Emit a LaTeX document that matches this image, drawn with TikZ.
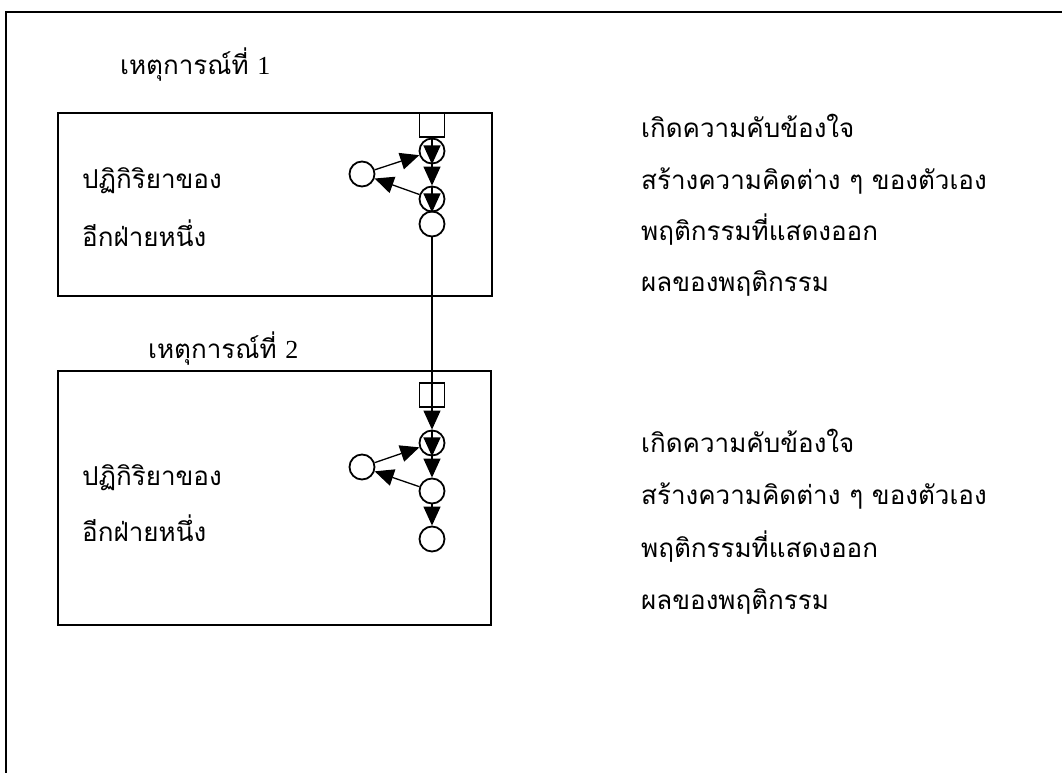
\documentclass[tikz,border=0pt]{standalone}
\usepackage{fontspec}
\setmainfont{Liberation Serif}
\newfontfamily\thaifont[Script=Thai]{Loma}
\usetikzlibrary{arrows.meta}
\begin{document}
\begin{tikzpicture}[x=1pt,y=-1pt,
  frame/.style={line width=2.6pt},
  panel/.style={line width=2pt},
  sq/.style={draw,line width=1.8pt,minimum width=25pt,minimum height=24pt,inner sep=0pt},
  circ/.style={draw,circle,line width=1.8pt,minimum size=25pt,inner sep=0pt},
  tip/.style={-{Triangle[width=17pt,length=19pt]}},
  arr/.style={line width=1.3pt,tip},
  ln/.style={line width=1.1pt,tip},
  txt/.style={anchor=base west,inner sep=0pt,font=\thaifont\fontsize{26}{31}\selectfont}]
\useasboundingbox (0,0) rectangle (1062,773);
% outer frame
\draw[frame] (6,773) -- (6,12) -- (1062,12);
% panels
\draw[panel] (58,113) rectangle (492,296);
\draw[panel] (58,371) rectangle (491,625);
% titles
\node[txt] (t1) at (120,75) {เหตุการณ์ที่ {\rmfamily 1}};
\node[txt] (t2) at (148,358) {เหตุการณ์ที่ {\rmfamily 2}};
% panel texts
\node[txt] (a1) at (82,188) {ปฏิกิริยาของ};
\node[txt] (b1) at (82,246) {อีกฝ่ายหนึ่ง};
\node[txt] (a2) at (82,485) {ปฏิกิริยาของ};
\node[txt] (b2) at (82,541) {อีกฝ่ายหนึ่ง};
% right texts
\node[txt] (r11) at (641,138) {เกิดความคับข้องใจ};
\node[txt] (r12) at (641,189) {สร้างความคิดต่าง ๆ ของตัวเอง};
\node[txt] (r13) at (641,240) {พฤติกรรมที่แสดงออก};
\node[txt] (r14) at (641,291) {ผลของพฤติกรรม};
\node[txt] (r21) at (641,452) {เกิดความคับข้องใจ};
\node[txt] (r22) at (641,504) {สร้างความคิดต่าง ๆ ของตัวเอง};
\node[txt] (r23) at (641,557) {พฤติกรรมที่แสดงออก};
\node[txt] (r24) at (641,609) {ผลของพฤติกรรม};
% diagram 1
\node[sq] (s1) at (432,125) {};
\node[circ] (c11) at (432,151) {};
\node[circ] (l1) at (362,174) {};
\node[circ] (c12) at (432,199) {};
\node[circ] (c13) at (432,224) {};
\draw[arr] (s1.south) -- (c11.south);
\draw[arr] (c11.south) -- (c12.north);
\draw[arr] (c12.north) -- (c12.south);
\draw[arr] (l1) -- (c11);
\draw[arr] (c12) -- (l1);
% diagram 2
\node[sq] (s2) at (432,395) {};
\node[circ] (c21) at (432,443) {};
\node[circ] (l2) at (362,467) {};
\node[circ] (c22) at (432,491) {};
\node[circ] (c23) at (432,539) {};
\draw[ln] (c13.south) -- (c21.north);
\draw[arr] (c21.north) -- (c21.south);
\draw[arr] (c21) -- (c22);
\draw[arr] (c22) -- (c23);
\draw[arr] (l2) -- (c21);
\draw[arr] (c22) -- (l2);
\end{tikzpicture}
\end{document}
